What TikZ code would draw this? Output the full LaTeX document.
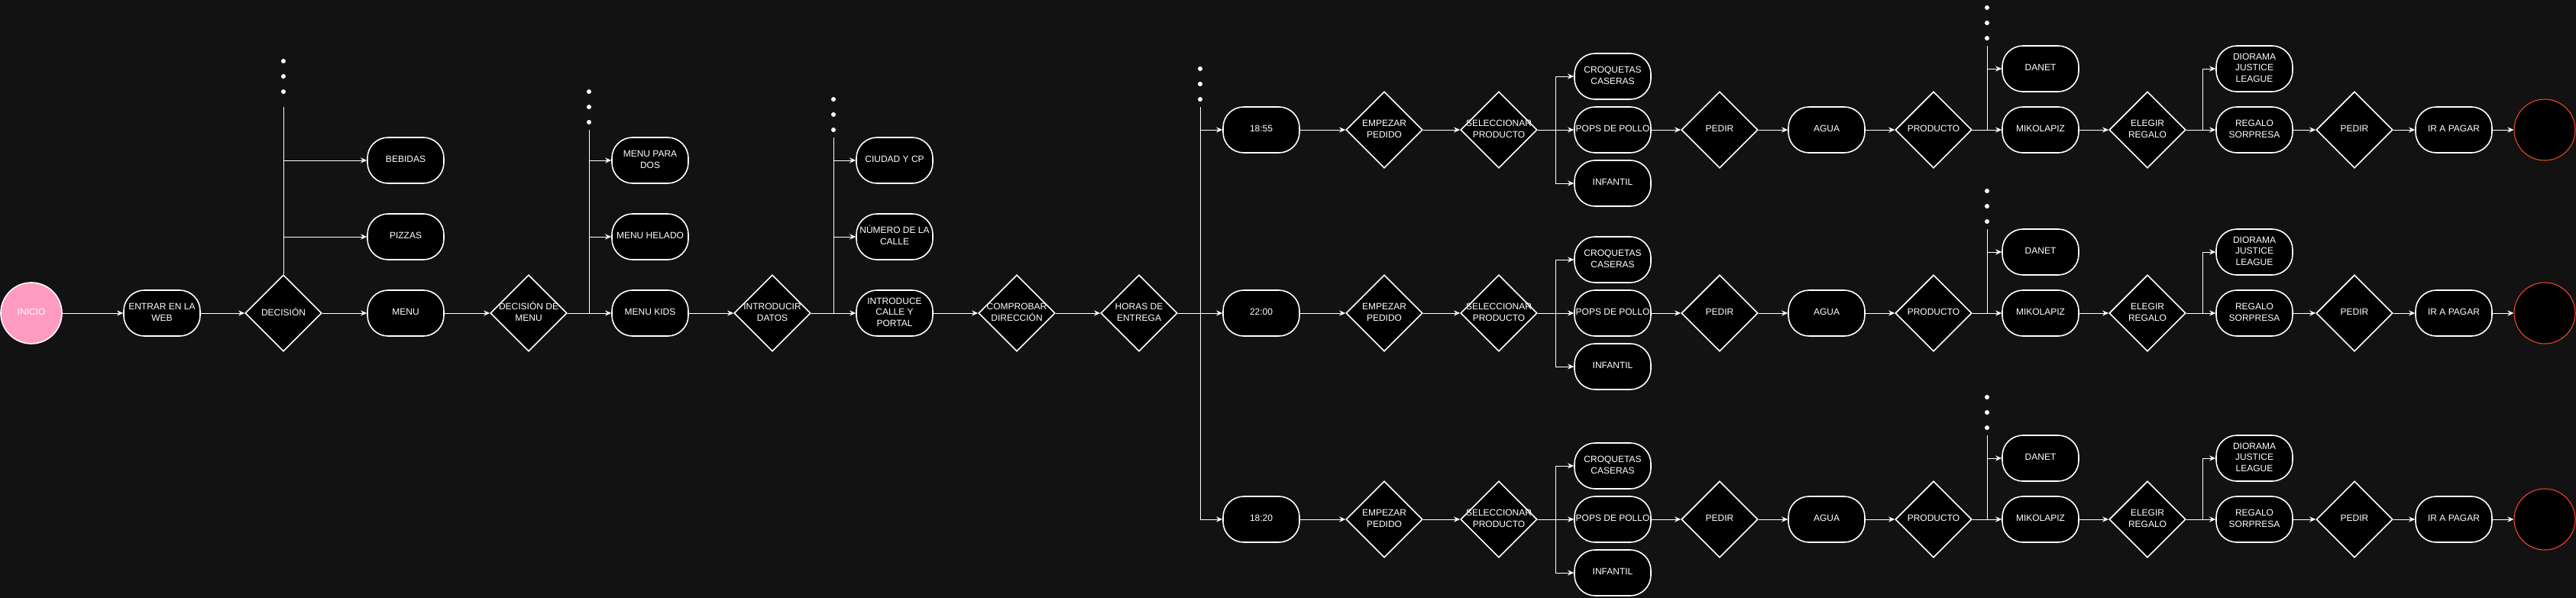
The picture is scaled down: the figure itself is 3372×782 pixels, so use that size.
\documentclass[tikz,border=0pt]{standalone}
\usepackage{fontspec}
\setmainfont{Liberation Sans}
\usetikzlibrary{shapes.geometric,arrows.meta}
\definecolor{bg}{HTML}{121212}
\definecolor{pinkfill}{HTML}{FF9AC1}
\definecolor{endred}{HTML}{E8492A}
\newcommand{\lbl}[1]{\makebox[0pt]{\begin{tabular}{@{}c@{}}#1\end{tabular}}}
\begin{document}
\begin{tikzpicture}[x=1pt,y=-1pt,
  every node/.style={font=\fontsize{12}{14.4}\selectfont, text=white},
  term/.style={rectangle, rounded corners=27pt, draw=white, fill=black, line width=1.6pt, minimum width=100pt, minimum height=60pt, inner sep=0pt},
  dec/.style={diamond, aspect=1, draw=white, fill=black, line width=1.6pt, minimum width=100pt, minimum height=100pt, inner sep=0pt},
  startc/.style={circle, draw=white, fill=pinkfill, line width=1.6pt, minimum size=80pt, inner sep=0pt},
  endc/.style={circle, draw=endred, fill=black, line width=1.1pt, minimum size=80pt, inner sep=0pt},
  conn/.style={draw=white, line width=1pt},
  arr/.style={conn, -{Stealth[length=8pt,width=7pt,inset=2.5pt]}},
  vdot/.style={fill=white}
]
\useasboundingbox (0,0) rectangle (3372,782);
\fill[bg] (-6,-6) rectangle (3378,788);

% main row
\node[startc] (inicio) at (41,410) {\lbl{INICIO}};
\node[term] (web) at (212,410) {\lbl{ENTRAR EN LA\\WEB}};
\node[dec] (dec) at (371,410) {\lbl{DECISIÓN}};
\node[term] (menu) at (531,410) {\lbl{MENU}};
\node[term] (beb) at (531,210) {\lbl{BEBIDAS}};
\node[term] (piz) at (531,310) {\lbl{PIZZAS}};
\node[dec] (dmenu) at (692,410) {\lbl{DECISIÓN DE\\MENU}};
\node[term] (mdos) at (851,210) {\lbl{MENU PARA\\DOS}};
\node[term] (mhel) at (851,310) {\lbl{MENU HELADO}};
\node[term] (mkids) at (851,410) {\lbl{MENU KIDS}};
\node[dec] (datos) at (1011,410) {\lbl{INTRODUCIR\\DATOS}};
\node[term] (ciudad) at (1171,210) {\lbl{CIUDAD Y CP}};
\node[term] (numero) at (1171,310) {\lbl{NÚMERO DE LA\\CALLE}};
\node[term] (calle) at (1171,410) {\lbl{INTRODUCE\\CALLE Y\\PORTAL}};
\node[dec] (comp) at (1331,410) {\lbl{COMPROBAR\\DIRECCIÓN}};
\node[dec] (horas) at (1491,410) {\lbl{HORAS DE\\ENTREGA}};

\draw[arr] (inicio) -- (web);
\draw[arr] (web) -- (dec);
\draw[arr] (dec) -- (menu);
\coordinate (dtop) at (371,140);
\draw[conn] (dec.north) -- (dtop);
\draw[arr] (dtop |- beb) -- (beb.west);
\draw[arr] (dtop |- piz) -- (piz.west);
\foreach \yy in {80,100,120} \fill[vdot] (371,\yy) circle (3pt);

\draw[arr] (menu) -- (dmenu);
\coordinate (mtop) at (771,170);
\draw[arr] (dmenu) -- (mkids);
\draw[conn] (dmenu.east -| mtop) -- (mtop);
\draw[arr] (mtop |- mdos) -- (mdos.west);
\draw[arr] (mtop |- mhel) -- (mhel.west);
\foreach \yy in {120,140,160} \fill[vdot] (771,\yy) circle (3pt);

\draw[arr] (mkids) -- (datos);
\coordinate (ctop) at (1091,180);
\draw[arr] (datos) -- (calle);
\draw[conn] (datos.east -| ctop) -- (ctop);
\draw[arr] (ctop |- ciudad) -- (ciudad.west);
\draw[arr] (ctop |- numero) -- (numero.west);
\foreach \yy in {130,150,170} \fill[vdot] (1091,\yy) circle (3pt);

\draw[arr] (calle) -- (comp);
\draw[arr] (comp) -- (horas);

% three order rows
\foreach \r/\yy/\hora in {a/170/18:55, b/410/22:00, c/680/18:20} {
  \node[term] (h\r) at (1651,\yy) {\lbl{\hora}};
  \node[dec] (emp\r) at (1812,\yy) {\lbl{EMPEZAR\\PEDIDO}};
  \node[dec] (sel\r) at (1962,\yy) {\lbl{SELECCIONAR\\PRODUCTO}};
  \node[term] (cro\r) at (2111,\yy-70) {\lbl{CROQUETAS\\CASERAS}};
  \node[term] (pops\r) at (2111,\yy) {\lbl{POPS DE POLLO}};
  \node[term] (inf\r) at (2111,\yy+70) {\lbl{INFANTIL}};
  \node[dec] (ped\r) at (2251,\yy) {\lbl{PEDIR}};
  \node[term] (agua\r) at (2391,\yy) {\lbl{AGUA}};
  \node[dec] (prod\r) at (2531,\yy) {\lbl{PRODUCTO}};
  \node[term] (danet\r) at (2671,\yy-80) {\lbl{DANET}};
  \node[term] (miko\r) at (2671,\yy) {\lbl{MIKOLAPIZ}};
  \node[dec] (ele\r) at (2811,\yy) {\lbl{ELEGIR\\REGALO}};
  \node[term] (dio\r) at (2951,\yy-80) {\lbl{DIORAMA\\JUSTICE\\LEAGUE}};
  \node[term] (sor\r) at (2951,\yy) {\lbl{REGALO\\SORPRESA}};
  \node[dec] (pedd\r) at (3082,\yy) {\lbl{PEDIR}};
  \node[term] (pagar\r) at (3212,\yy) {\lbl{IR A PAGAR}};
  \node[endc] (fin\r) at (3331,\yy) {};

  \draw[arr] (h\r) -- (emp\r);
  \draw[arr] (emp\r) -- (sel\r);
  \coordinate (sb\r) at (2036,\yy);
  \draw[arr] (sel\r) -- (pops\r);
  \draw[arr] (sb\r) |- (cro\r.west);
  \draw[arr] (sb\r) |- (inf\r.west);
  \draw[arr] (pops\r) -- (ped\r);
  \draw[arr] (ped\r) -- (agua\r);
  \draw[arr] (agua\r) -- (prod\r);
  \coordinate (pb\r) at (2601,\yy-110);
  \draw[arr] (prod\r) -- (miko\r);
  \draw[conn] (prod\r.east -| pb\r) -- (pb\r);
  \draw[arr] (pb\r |- danet\r) -- (danet\r.west);
  \foreach \dd in {160,140,120} \fill[vdot] (2601,\yy-\dd) circle (3pt);
  \draw[arr] (miko\r) -- (ele\r);
  \coordinate (eb\r) at (2883,\yy);
  \draw[arr] (ele\r) -- (sor\r);
  \draw[arr] (eb\r) |- (dio\r.west);
  \draw[arr] (sor\r) -- (pedd\r);
  \draw[arr] (pedd\r) -- (pagar\r);
  \draw[arr] (pagar\r) -- (fin\r);
}

% delivery-time branch
\coordinate (htop) at (1571,140);
\draw[arr] (horas) -- (hb);
\draw[conn] (htop) -- (htop |- hc);
\draw[arr] (htop |- ha) -- (ha.west);
\draw[arr] (htop |- hc) -- (hc.west);
\foreach \yy in {90,110,130} \fill[vdot] (1571,\yy) circle (3pt);
\end{tikzpicture}
\end{document}
